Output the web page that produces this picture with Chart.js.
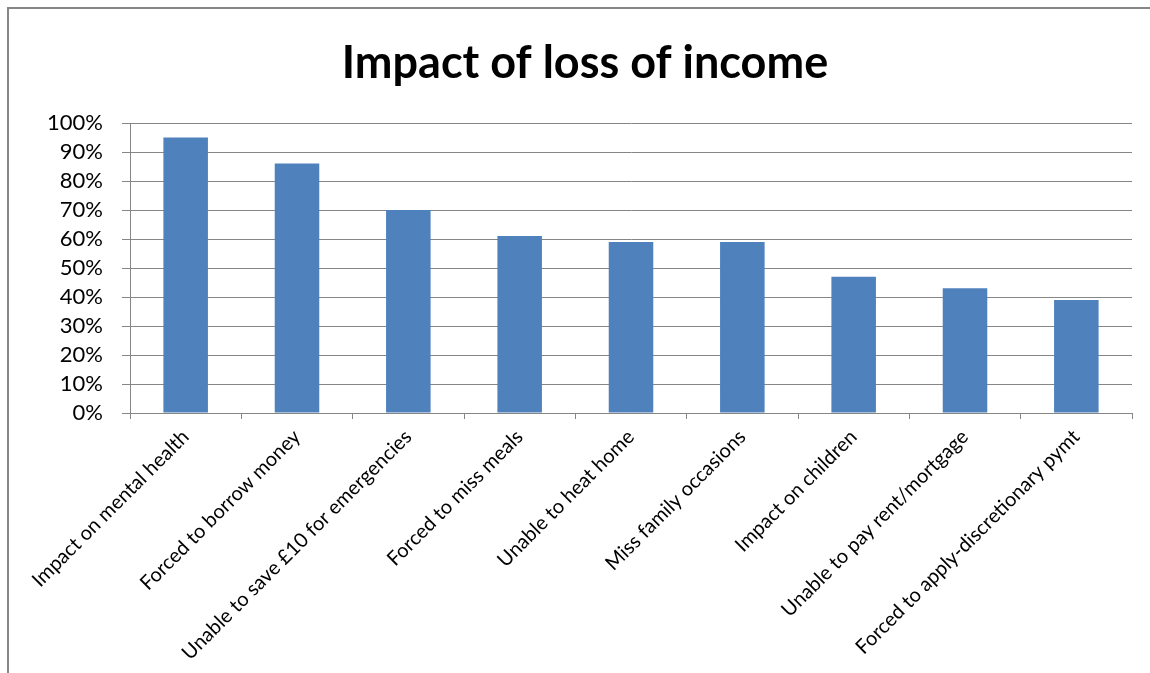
<!DOCTYPE html>
<html>
<head>
<meta charset="utf-8">
<script src="https://cdn.jsdelivr.net/npm/chart.js@4"></script>
<style>
  html, body { margin: 0; padding: 0; background: #fff; overflow: hidden; }
  #wrap { width: 1150px; height: 673px; position: relative; }
</style>
</head>
<body>
<div id="wrap"><canvas id="chart" width="1150" height="673"></canvas></div>
<script>
// Impact of loss of income - survey results (% of respondents)
const categories = [
    'Impact on mental health',
    'Forced to borrow money',
    'Unable to save £10 for emergencies',
    'Forced to miss meals',
    'Unable to heat home',
    'Miss family occasions',
    'Impact on children',
    'Unable to pay rent/mortgage',
    'Forced to apply-discretionary pymt'
];
const percentValues = [95, 86, 70, 61, 59, 59, 47, 43, 39];
const yTicks = [0, 10, 20, 30, 40, 50, 60, 70, 80, 90, 100];

const FONT = "Lato, 'Open Sans', sans-serif";
const GRID = '#868686';

// outer chart frame (only left/top edges are visible in the picture)
const framePlugin = {
    id: 'frame',
    beforeDraw(chart) {
        const ctx = chart.ctx;
        ctx.save();
        ctx.strokeStyle = GRID;
        ctx.lineWidth = 2;
        ctx.strokeRect(8, 8, 1200, 700);
        ctx.restore();
    }
};

const ctx = document.getElementById('chart').getContext('2d');
new Chart(ctx, {
    type: 'bar',
    data: {
        labels: categories,
        datasets: [{
            label: 'Impact',
            data: percentValues,
            backgroundColor: '#4F81BD',
            borderWidth: 0,
            categoryPercentage: 0.4,
            barPercentage: 1.0
        }]
    },
    options: {
        responsive: false,
        animation: false,
        devicePixelRatio: 1,
        layout: { padding: { left: 38, right: 18, top: 0, bottom: 0 } },
        plugins: {
            legend: { display: false },
            tooltip: { enabled: false },
            title: {
                display: true,
                text: 'Impact of loss of income',
                color: '#000',
                font: { family: FONT, size: 45, weight: 'bold', lineHeight: 1.2 },
                padding: { top: 36, bottom: 33 }
            }
        },
        scales: {
            x: {
                offset: true,
                grid: {
                    offset: true,
                    drawOnChartArea: false,
                    drawTicks: true,
                    tickLength: 6,
                    color: GRID
                },
                border: { display: true, color: GRID, width: 1 },
                ticks: {
                    color: '#000',
                    maxRotation: 45,
                    minRotation: 45,
                    autoSkip: false,
                    padding: 6,
                    font: { family: FONT, size: 20 }
                },
                afterFit(scale) { scale.height = 673 - 413; }
            },
            y: {
                min: 0,
                max: 100,
                afterBuildTicks(scale) { scale.ticks = yTicks.map(v => ({ value: v })); },
                grid: {
                    color: GRID,
                    drawTicks: true,
                    tickLength: 8
                },
                border: { display: true, color: GRID, width: 1 },
                ticks: {
                    color: '#000',
                    autoSkip: false,
                    padding: 19,
                    font: { family: FONT, size: 22 },
                    callback: v => v + '%'
                },
                afterFit(scale) { scale.width = 92; }
            }
        }
    },
    plugins: [framePlugin]
});
</script>
</body>
</html>
